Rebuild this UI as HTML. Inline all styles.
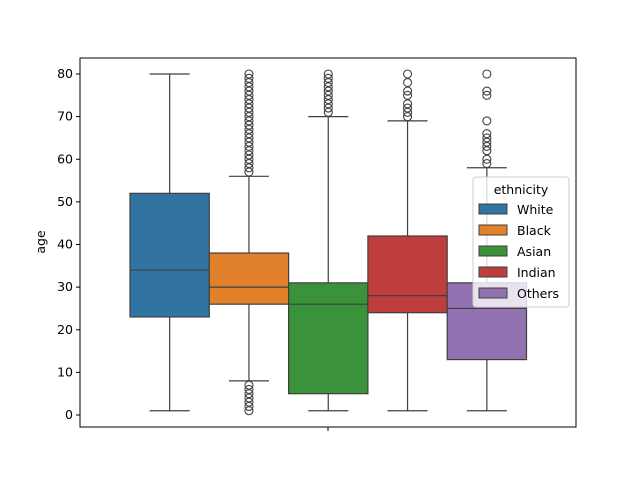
<!DOCTYPE html>
<html><head><meta charset="utf-8"><style>
body{margin:0;background:#fff;font-family:"Liberation Sans",sans-serif;}
svg text{font-family:"DejaVu Sans","Liberation Sans",sans-serif;}
</style></head><body>
<svg id="c" width="640" height="480"></svg>
<script>
const categories=["White","Black","Asian","Indian","Others"];
const colors=["#3274a1","#e1812c","#3a923a","#c03d3e","#9372b2"];
const whisLo=[1,8,1,1,1];
const q1s=[23,26,5,24,13];
const medians=[34,30,26,28,25];
const q3s=[52,38,31,42,31];
const whisHi=[80,56,70,69,58];
const outliers=[[],[1,2,3,4,5,6,7,57,58,59,60,61,62,63,64,65,66,67,68,69,70,71,72,73,74,75,76,77,78,79,80],[71,72,73,74,75,76,77,78,79,80],[70,71,72,73,75,76,78,80],[59,60,62,63,64,65,66,69,75,76,80]];
const yTicks=[0,10,20,30,40,50,60,70,80];
const NS="http://www.w3.org/2000/svg";
const svg=document.getElementById('c');
const L=80,R=576,T=58,B=427;
const y=v=>415-(v)*(415-74)/80;
const bw=79.3, x0=130;
const xb=i=>x0+i*bw;
function mk(t,a,p){const e=document.createElementNS(NS,t);for(const k in a)e.setAttribute(k,a[k]);(p||svg).appendChild(e);return e;}
categories.forEach((c,i)=>{
 const g=mk('g',{});
 
 
 const xl=xb(i),xm=xl+bw/2;
 mk('line',{x1:xm,x2:xm,y1:y(whisLo[i]),y2:y(q1s[i]),stroke:'#3f3f3f','stroke-width':1.2},g);
 mk('line',{x1:xm,x2:xm,y1:y(q3s[i]),y2:y(whisHi[i]),stroke:'#3f3f3f','stroke-width':1.2},g);
 mk('line',{x1:xm-20,x2:xm+20,y1:y(whisLo[i]),y2:y(whisLo[i]),stroke:'#3f3f3f','stroke-width':1.2},g);
 mk('line',{x1:xm-20,x2:xm+20,y1:y(whisHi[i]),y2:y(whisHi[i]),stroke:'#3f3f3f','stroke-width':1.2},g);
 mk('rect',{x:xl,y:y(q3s[i]),width:bw,height:y(q1s[i])-y(q3s[i]),fill:colors[i],stroke:'#3f3f3f','stroke-width':1.2},g);
 mk('line',{x1:xl,x2:xl+bw,y1:y(medians[i]),y2:y(medians[i]),stroke:'#3f3f3f','stroke-width':1.2},g);
 outliers[i].forEach(v=>mk('circle',{cx:xm,cy:y(v),r:4,fill:'none',stroke:'#3f3f3f','stroke-width':1.1},g));
});
mk('rect',{x:L,y:T,width:R-L,height:B-T,fill:'none',stroke:'#000','stroke-width':1});
yTicks.forEach(v=>{
 mk('line',{x1:L-4,x2:L,y1:y(v),y2:y(v),stroke:'#000'});
 const t=mk('text',{x:L-7,y:y(v)+4,'text-anchor':'end','font-size':12.5});t.textContent=v;
 
 
});
mk('line',{x1:328,x2:328,y1:B,y2:B+4,stroke:'#000'});
const yl=mk('text',{x:45,y:242,'text-anchor':'middle','font-size':12.5,transform:'rotate(-90 45 242)'});yl.textContent='age';


const lg=mk('g',{});


mk('rect',{x:473,y:177,width:96,height:130,rx:3,fill:'#fff','fill-opacity':0.8,stroke:'#ccc'},lg);
const lt=mk('text',{x:521,y:194,'text-anchor':'middle','font-size':12.5},lg);lt.textContent='ethnicity';
categories.forEach((c,i)=>{
 const yy=204+i*21;
 const r=mk('rect',{x:479,y:yy,width:28,height:10,fill:colors[i],stroke:'#3f3f3f'},lg);
 
 
 const t=mk('text',{x:517,y:yy+10,'font-size':12.5},lg);t.textContent=c;
 
 
});
</script>
</body></html>
